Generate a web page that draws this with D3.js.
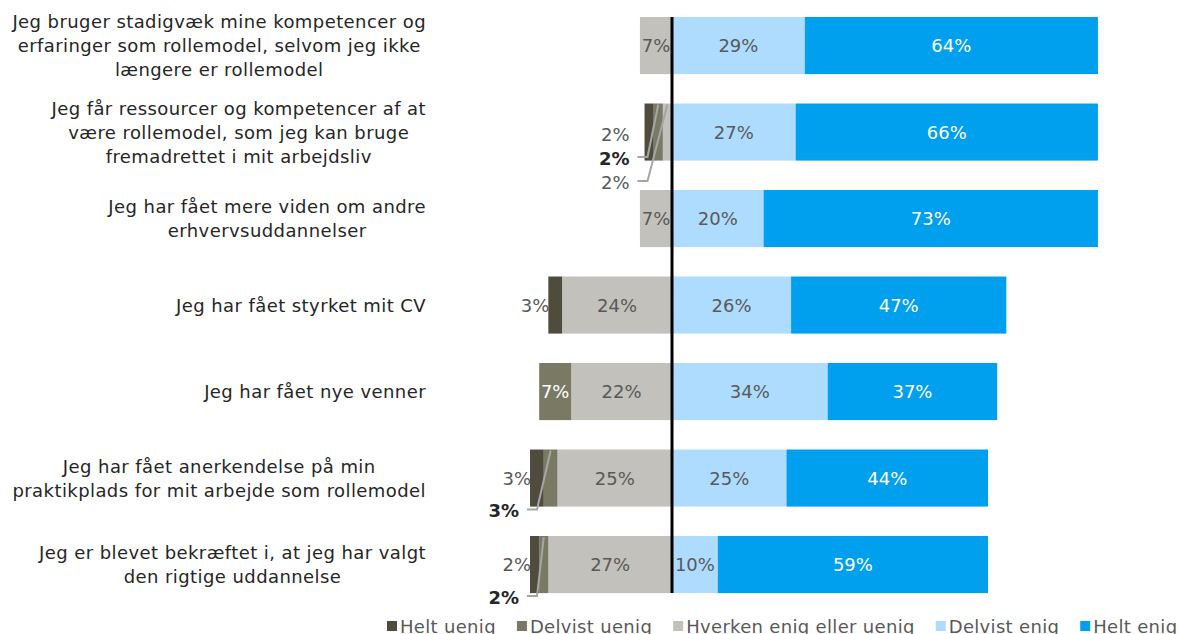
<!DOCTYPE html>
<html><head><meta charset="utf-8">
<script src="https://cdn.jsdelivr.net/npm/d3@7"></script>
<style>
html,body{margin:0;padding:0;background:#fff;}
svg{display:block;font-family:"DejaVu Sans",Verdana,sans-serif;}
</style></head>
<body><svg id="chart" width="1180" height="634"></svg>
<script>
const categories = [
  ["Jeg bruger stadigvæk mine kompetencer og","erfaringer som rollemodel, selvom jeg ikke","længere er rollemodel"],
  ["Jeg får ressourcer og kompetencer af at","være rollemodel, som jeg kan bruge","fremadrettet i mit arbejdsliv"],
  ["Jeg har fået mere viden om andre","erhvervsuddannelser"],
  ["Jeg har fået styrket mit CV"],
  ["Jeg har fået nye venner"],
  ["Jeg har fået anerkendelse på min","praktikplads for mit arbejde som rollemodel"],
  ["Jeg er blevet bekræftet i, at jeg har valgt","den rigtige uddannelse"]
];
const seriesNames = ["Helt uenig","Delvist uenig","Hverken enig eller uenig","Delvist enig","Helt enig"];
const heltUenig    = [0, 2, 0, 3, 0, 3, 2];
const delvistUenig = [0, 2, 0, 0, 7, 3, 2];
const hverken      = [7, 2, 7, 24, 22, 25, 27];
const delvistEnig  = [29, 27, 20, 26, 34, 25, 10];
const heltEnig     = [64, 66, 73, 47, 37, 44, 59];

const colors = ["#4f4c3e","#7a7a64","#c3c1bb","#aedcff","#00a0ee"];
const labelColors = ["#595959","#ffffff","#595959","#595959","#ffffff"];

const svg = d3.select("#chart");
const FONT = 18;
const LS = 0.42, LS_LEG = 0.32;
const zeroX = 672, pxPer = 4.58;
const x = d3.scaleLinear().domain([-40, 100]).range([zeroX - 40*pxPer, zeroX + 100*pxPer]);
const idx = d3.range(categories.length);
const y = d3.scaleBand().domain(idx).range([2.3, 607.8]).paddingInner(0.34).paddingOuter(0.17);

const rows = idx.map(i => {
  const vals = [heltUenig[i], delvistUenig[i], hverken[i], delvistEnig[i], heltEnig[i]];
  const segs = [];
  let cum = 0;
  [2,1,0].forEach(s => { const v = vals[s]; segs.push({s, v, x0: -(cum+v), x1: -cum}); cum += v; });
  cum = 0;
  [3,4].forEach(s => { const v = vals[s]; segs.push({s, v, x0: cum, x1: cum+v}); cum += v; });
  return {i, vals, segs: segs.filter(d => d.v > 0), left: -d3.sum(vals.slice(0,3))};
});

// bars
const g = svg.append("g");
rows.forEach(r => {
  g.selectAll(null).data(r.segs).join("rect")
    .attr("x", d => x(d.x0)).attr("width", d => x(d.x1) - x(d.x0))
    .attr("y", y(r.i)).attr("height", y.bandwidth())
    .attr("fill", d => colors[d.s]);
});

// labels
rows.forEach(r => {
  const cy = y(r.i) + y.bandwidth()/2;
  const small = r.segs.filter(d => d.s <= 2 && d.v < 5).sort((a,b) => a.s - b.s);
  const smallSet = new Set(small);
  r.segs.filter(d => !smallSet.has(d)).forEach(d => {
    svg.append("text").attr("x", (x(d.x0)+x(d.x1))/2).attr("y", cy)
      .attr("text-anchor","middle").attr("dominant-baseline","central")
      .attr("font-size", FONT).attr("fill", labelColors[d.s]).text(d.v + "%");
  });
  const barLeft = x(r.left);
  small.forEach((d, k) => {
    let ly, lx;
    if (small.length >= 3) { ly = cy + 2 + k*24; lx = barLeft - 15; }
    else if (k === 0) { ly = cy; lx = barLeft + 1; }
    else { ly = cy + 32.5; lx = barLeft - 11; }
    const bold = d.s === 1;
    svg.append("text").attr("x", lx).attr("y", ly)
      .attr("text-anchor","end").attr("dominant-baseline","central")
      .attr("font-size", FONT).attr("font-weight", bold ? "bold" : "normal")
      .attr("fill", bold ? "#262626" : "#595959").text(d.v + "%");
    if (k > 0) {
      const sx = lx + 8, sy = ly - 1;
      const tx = (x(d.x0)+x(d.x1))/2, ty = y(r.i) + 1;
      svg.append("polyline").attr("points", `${sx},${sy} ${sx+10},${sy} ${tx},${ty}`)
        .attr("fill","none").attr("stroke","#a6a6a6").attr("stroke-width",2);
    }
  });
});

// zero line
svg.append("line").attr("x1", x(0)).attr("x2", x(0))
  .attr("y1", y(0)).attr("y2", y(idx[idx.length-1]) + y.bandwidth())
  .attr("stroke","#000").attr("stroke-width",3);

// category labels
const catRight = 426, lineH = 24;
categories.forEach((lines, i) => {
  const cy = y(i) + y.bandwidth()/2;
  const t = svg.append("text").attr("font-size", FONT).attr("fill","#262626")
    .attr("letter-spacing", LS);
  const spans = lines.map((ln, j) => t.append("tspan").text(ln));
  const maxW = d3.max(spans, s => s.node().getComputedTextLength());
  const cx = catRight - maxW/2;
  spans.forEach((s, j) => s.attr("x", cx).attr("y", cy + (j - (lines.length-1)/2)*lineH)
    .attr("dominant-baseline","central"));
  t.attr("text-anchor","middle");
});

// legend
const lg = svg.append("g");
let lx = 387;
seriesNames.forEach((n, s) => {
  lg.append("rect").attr("x", lx).attr("y", 621).attr("width", 10).attr("height", 10).attr("fill", colors[s]);
  const t = lg.append("text").attr("x", lx + 13).attr("y", 633).attr("font-size", FONT)
    .attr("letter-spacing", LS_LEG).attr("fill","#595959").text(n);
  lx += 13 + t.node().getComputedTextLength() + 21;
});
</script></body></html>
